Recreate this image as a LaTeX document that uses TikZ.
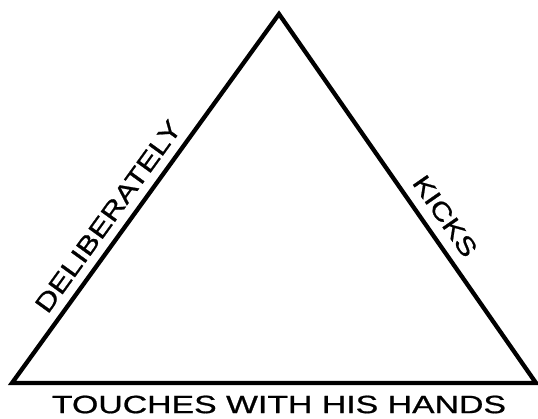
\documentclass[tikz,border=0pt]{standalone}
\usepackage{fontspec}
\setmainfont{Liberation Sans}
\newfontfamily\lblfont[FakeBold=0.7]{Liberation Sans}
\usepackage{graphicx}
\begin{document}
\begin{tikzpicture}[x=1pt,y=1pt,
  edge/.style={line width=4.3pt, line join=miter, black},
  lbl/.style={inner sep=0pt, outer sep=0pt, font=\lblfont}]
\useasboundingbox (0,0) rectangle (538,-418);
\coordinate (A) at (279,-14);
\coordinate (L) at (12,-383);
\coordinate (R) at (536,-383);
\draw[edge] (A) -- (R) -- (L) -- cycle;
\path (L) -- (A) node[lbl, pos=0.42, sloped, anchor=south, yshift=11pt] (del)
  {\resizebox{230pt}{17.5pt}{DELIBERATELY}};
\path (A) -- (R) node[lbl, pos=0.58, sloped, anchor=south, yshift=12pt] (kick)
  {\resizebox{93pt}{17.5pt}{KICKS}};
\node[lbl] (touch) at (279,-404.5) {\resizebox{454pt}{17.5pt}{TOUCHES WITH HIS HANDS}};
\end{tikzpicture}
\end{document}
